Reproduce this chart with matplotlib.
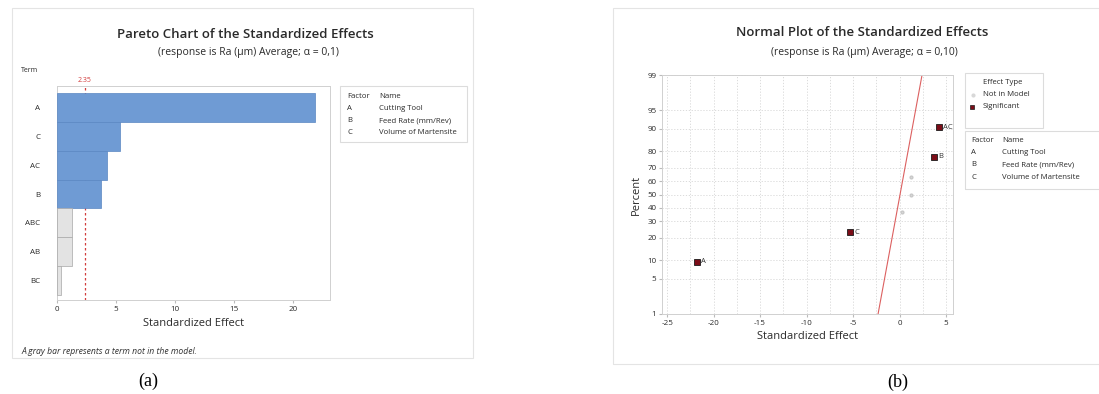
import matplotlib
matplotlib.use('Agg')
import matplotlib.pyplot as plt
import numpy as np
from matplotlib.patches import Rectangle
from statistics import NormalDist

plt.rcParams['font.family'] = ['Open Sans', 'DejaVu Sans']
plt.rcParams['axes.unicode_minus'] = False

# pareto data
terms = ['A', 'C', 'AC', 'B', 'ABC', 'AB', 'BC']
abs_effects = [21.8, 5.3, 4.2, 3.7, 1.3, 1.3, 0.3]
in_model = [True, True, True, True, False, False, False]
ref_value = 2.35

# normal plot data (sorted by effect)
norm_terms = ['A', 'C', 'BC', 'AB', 'ABC', 'B', 'AC']
norm_effects = [-21.8, -5.3, 0.3, 1.2, 1.25, 3.7, 4.2]
norm_percent = [9.5, 23.0, 36.5, 50.0, 63.5, 77.0, 90.5]
norm_sig = [True, True, False, False, False, True, True]
line_x = [-2.31, 2.42]
line_pct = [1, 99]

factors = ['A', 'B', 'C']
factor_names = ['Cutting Tool', 'Feed Rate (mm/Rev)', 'Volume of Martensite']

W, H = 1099, 394
fig = plt.figure(figsize=(W / 100, H / 100), dpi=100)
fig.patch.set_facecolor('white')
txt = '#2a2a2a'


def fx(px):
    return px / W


def fy(py):
    return 1 - py / H


def box(x0, y0, x1, y1, ec='#dcdcdc', lw=0.8):
    fig.patches.append(Rectangle((fx(x0), fy(y1)), fx(x1 - x0), (y1 - y0) / H,
                                 transform=fig.transFigure, fill=False, ec=ec, lw=lw))


# outer frames
box(12, 8, 473, 358, ec='#e4e4e4')
box(613, 8, 1104, 364, ec='#e4e4e4')

# ---------- pareto ----------
ax1 = fig.add_axes([fx(57), fy(300), fx(273), 214 / H])
ypos = np.arange(len(terms))
cols = ['#6f9bd4' if m else '#e3e3e3' for m in in_model]
ecs = ['#5a86c2' if m else '#a8a8a8' for m in in_model]
ax1.barh(ypos, abs_effects, height=1.0, color=cols, edgecolor=ecs, linewidth=0.5, zorder=3)
ax1.axvline(ref_value, color='#d23c3c', ls=(0, (2, 2)), lw=0.9, zorder=2)
ax1.set_ylim(len(terms) - 0.5 + 0.17, -0.5 - 0.24)
ax1.set_xlim(0, 23.1)
ax1.set_yticks(ypos)
ax1.set_yticklabels(terms, fontsize=5.8, color=txt)
ax1.set_xticks([0, 5, 10, 15, 20])
ax1.tick_params(axis='x', labelsize=5.8, length=2, color='#bbbbbb', pad=2, labelcolor=txt)
ax1.tick_params(axis='y', length=0, pad=12)
for s in ax1.spines.values():
    s.set_color('#d0d0d0')
    s.set_linewidth(0.7)
ax1.set_xlabel('Standardized Effect', fontsize=8, labelpad=4, color=txt)
ax1.text(ref_value, 1.01, '2.35', color='#d23c3c', fontsize=5, ha='center', va='bottom',
         transform=ax1.get_xaxis_transform())

fig.text(fx(245), fy(34), 'Pareto Chart of the Standardized Effects', fontsize=9.5,
         fontweight='semibold', ha='center', va='center', color=txt)
fig.text(fx(248), fy(52), '(response is Ra (µm) Average; α = 0,1)', fontsize=7.5,
         ha='center', va='center', color=txt)
fig.text(fx(30), fy(71), 'Term', fontsize=5, ha='center', va='center', color=txt)
fig.text(fx(21), fy(352), 'A gray bar represents a term not in the model.', fontsize=6.2,
         style='italic', ha='left', va='center', color='#333333')
fig.text(fx(148), fy(381), '(a)', fontsize=13, ha='center', va='center',
         family='Liberation Serif')

# pareto legend
box(340, 86, 467, 142)
fig.text(fx(347), fy(96), 'Factor', fontsize=5.6, va='center', color=txt)
fig.text(fx(379), fy(96), 'Name', fontsize=5.6, va='center', color=txt)
for i, (f, n) in enumerate(zip(factors, factor_names)):
    fig.text(fx(347), fy(109 + 12 * i), f, fontsize=5.6, va='center', color=txt)
    fig.text(fx(379), fy(109 + 12 * i), n, fontsize=5.6, va='center', color=txt)

# ---------- normal plot ----------
nd = NormalDist()
_ppf = np.vectorize(lambda v: nd.inv_cdf(v / 100), otypes=[float])
_cdf = np.vectorize(lambda v: nd.cdf(v) * 100, otypes=[float])


def fwd(p):
    p = np.clip(np.asarray(p, dtype=float), 0.01, 99.99)
    return _ppf(p)


def inv(z):
    return _cdf(np.asarray(z, dtype=float))


ax2 = fig.add_axes([fx(662), fy(314), fx(291), 239 / H])
ax2.set_yscale('function', functions=(fwd, inv))
ax2.set_ylim(1, 99)
ax2.set_xlim(-25.55, 5.75)
yt = [1, 5, 10, 20, 30, 40, 50, 60, 70, 80, 90, 95, 99]
ax2.set_yticks(yt)
ax2.set_yticklabels([str(v) for v in yt], fontsize=5.8, color=txt)
ax2.yaxis.set_minor_locator(matplotlib.ticker.NullLocator())
ax2.set_xticks([-25, -20, -15, -10, -5, 0, 5])
ax2.set_xticks(np.arange(-25, 5.1, 2.5), minor=True)
ax2.tick_params(axis='both', labelsize=5.8, length=2, color='#bbbbbb', pad=2, labelcolor=txt)
ax2.tick_params(axis='x', which='minor', length=0)
ax2.grid(True, which='both', color='#d6d6d6', ls=(0, (1.5, 2)), lw=0.6)
ax2.set_axisbelow(True)
for s in ax2.spines.values():
    s.set_color('#d0d0d0')
    s.set_linewidth(0.7)
ax2.plot(line_x, line_pct, color='#dc6060', lw=0.8, zorder=2)
for t, e, p, sg in zip(norm_terms, norm_effects, norm_percent, norm_sig):
    if sg:
        ax2.plot(e, p, marker='s', ms=4, color='#7b0d18', mec='#1a1a1a', mew=0.6, zorder=4)
        ax2.annotate(t, (e, p), xytext=(3, 0), textcoords='offset points', fontsize=5.5,
                     va='center', color='#333333')
    else:
        ax2.plot(e, p, marker='o', ms=2, color='#d8d8d8', mec='#c8c8c8', zorder=3)
ax2.set_xlabel('Standardized Effect', fontsize=8, labelpad=3, color=txt)
ax2.set_ylabel('Percent', fontsize=8, labelpad=4, color=txt)

fig.text(fx(862), fy(33), 'Normal Plot of the Standardized Effects', fontsize=9.5,
         fontweight='semibold', ha='center', va='center', color=txt)
fig.text(fx(864), fy(52), '(response is Ra (µm) Average; α = 0,10)', fontsize=7.5,
         ha='center', va='center', color=txt)
fig.text(fx(898), fy(382), '(b)', fontsize=13, ha='center', va='center',
         family='Liberation Serif')

# effect type legend
box(965, 73, 1043, 128)
fig.text(fx(983), fy(83), 'Effect Type', fontsize=5.6, va='center', color=txt)
fig.text(fx(983), fy(95), 'Not in Model', fontsize=5.6, va='center', color=txt)
fig.text(fx(983), fy(107), 'Significant', fontsize=5.6, va='center', color=txt)
fig.lines.append(plt.Line2D([fx(973)], [fy(95)], marker='o', ms=2, color='#d8d8d8',
                            transform=fig.transFigure))
fig.lines.append(plt.Line2D([fx(972)], [fy(107)], marker='s', ms=3.5, color='#7b0d18',
                            mec='#1a1a1a', mew=0.5, transform=fig.transFigure))

# factor legend
box(965, 131, 1104, 189)
fig.text(fx(971), fy(141), 'Factor', fontsize=5.6, va='center', color=txt)
fig.text(fx(1002), fy(141), 'Name', fontsize=5.6, va='center', color=txt)
for i, (f, n) in enumerate(zip(factors, factor_names)):
    fig.text(fx(971), fy(153 + 12 * i), f, fontsize=5.6, va='center', color=txt)
    fig.text(fx(1002), fy(153 + 12 * i), n, fontsize=5.6, va='center', color=txt)

fig.savefig('out.png', dpi=100)
